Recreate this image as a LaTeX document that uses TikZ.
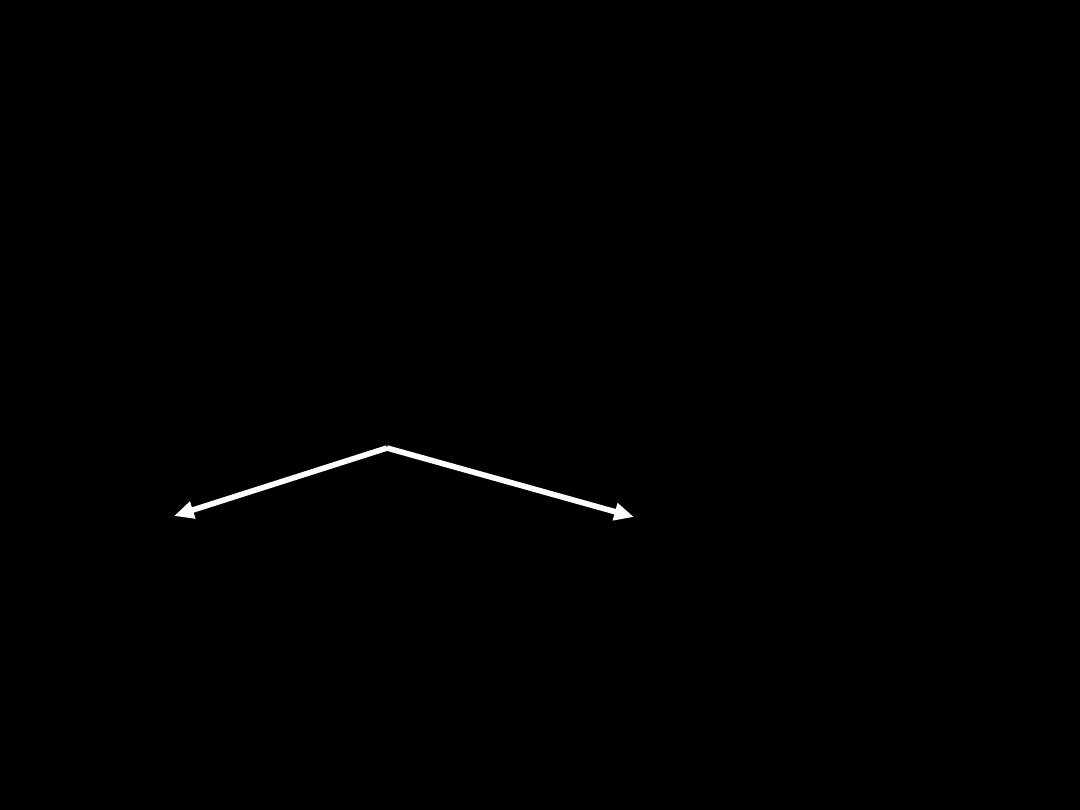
\documentclass[tikz,border=0pt]{standalone}
\usetikzlibrary{arrows.meta}
\begin{document}
\begin{tikzpicture}[x=0.025cm,y=-0.025cm,
  branch/.style={draw=white,line width=4pt,-{Triangle[length=14pt,width=12pt]}}]
\fill[black] (0,0) rectangle (1080,810);
\useasboundingbox (0,0) rectangle (1080,810);
\coordinate (top) at (387,448);
\coordinate (left) at (174,516);
\coordinate (right) at (634,517);
\draw[branch] (top) -- (left);
\draw[branch] (top) -- (right);
\end{tikzpicture}
\end{document}
